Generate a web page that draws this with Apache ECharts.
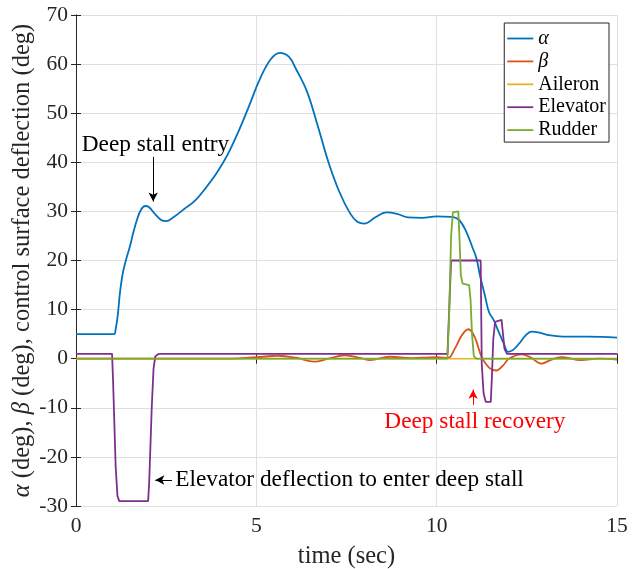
<!DOCTYPE html>
<html>
<head>
<meta charset="utf-8">
<script src="https://cdn.jsdelivr.net/npm/echarts@6/dist/echarts.min.js"></script>
<style>
html,body{margin:0;padding:0;background:#fff}
#chart{width:640px;height:569px}
</style>
</head>
<body>
<div id="chart"></div>
<script>
// time (sec), value (deg)
var alphaData = [[0,5],[1.05,5],[1.1,6],[1.16,9],[1.22,13.5],[1.3,17.5],[1.4,20.5],[1.5,23],[1.6,26],[1.7,28.5],[1.8,30.3],
  [1.92,31.1],[2.02,30.9],[2.15,29.8],[2.35,28.3],[2.5,28],[2.7,28.8],[3.0,30.5],[3.3,32.2],[3.6,34.8],[3.9,37.8],
  [4.2,41.5],[4.5,46.2],[4.8,51.5],[5.1,57],[5.4,61],[5.65,62.3],[5.9,61.5],[6.1,59],[6.4,54.5],[6.7,47.5],[7.0,40],
  [7.3,34],[7.6,29.6],[7.8,27.9],[8.0,27.5],[8.3,28.8],[8.6,29.8],[8.9,29.5],[9.2,28.8],[9.6,28.7],[10.0,29],
  [10.4,28.9],[10.6,28.4],[10.8,26.2],[11.0,22.5],[11.1,20.5],[11.2,17],[11.34,12.8],[11.45,9.5],[11.58,7.9],
  [11.7,5.8],[11.86,3.1],[11.98,1.4],[12.12,1.8],[12.3,3.2],[12.45,4.6],[12.63,5.5],[12.85,5.3],[13.1,4.8],
  [13.5,4.5],[14.2,4.5],[15,4.3]];
var betaData = [[0,0],[4,0],[5,0.3],[5.6,0.6],[6.1,0.2],[6.6,-0.6],[7.0,0],[7.45,0.7],[7.9,0.1],[8.15,-0.3],
  [8.7,0.4],[9.3,0.1],[10.0,0.3],[10.3,0.1],[10.5,2.0],[10.7,4.8],[10.88,6.0],[11.05,4.5],[11.25,0.3],[11.45,-1.8],
  [11.65,-2.4],[11.85,-1.3],[12.0,0],[12.35,0.9],[12.6,0.3],[12.9,-1.0],[13.15,-0.3],[13.45,0.3],[14.0,-0.3],
  [14.5,0],[15,-0.2]];
var aileronData = [[0,0],[15,0]];
var elevatorData = [[0,1],[1.0,1],[1.03,-5],[1.1,-22],[1.15,-28],[1.2,-29],[2.0,-29],[2.03,-25],[2.1,-10],
  [2.15,-2],[2.2,0.5],[2.3,1],[10.3,1],[10.4,20],[11.22,20],[11.25,-1],[11.3,-7],[11.36,-8.8],[11.5,-8.8],
  [11.53,-4],[11.57,4],[11.62,7.5],[11.66,7.9],[11.8,7.9],[11.88,2],[11.95,1],[15,1]];
var rudderData = [[0,0],[10.3,0],[10.35,10],[10.4,25],[10.45,29.8],[10.6,30],[10.63,25],[10.67,17],[10.72,15.3],
  [10.9,15],[10.94,12],[10.98,5],[11.03,0.5],[11.1,0],[15,0]];

var seriesNames = ['α', 'β', 'Aileron', 'Elevator', 'Rudder'];
var seriesColors = ['#0072BD', '#D95319', '#EDB120', '#7E2F8E', '#77AC30'];

var font = 'Liberation Serif';
var axisColor = '#262626';

var myChart = echarts.init(document.getElementById('chart'));

function lineSeries(i, data, smooth, w) {
  return {
    name: seriesNames[i],
    type: 'line',
    data: data,
    symbol: 'none',
    smooth: smooth,
    lineStyle: {color: seriesColors[i], width: w || 1.8},
    itemStyle: {color: seriesColors[i]},
    xAxisIndex: 0,
    yAxisIndex: 0
  };
}

// arrows in data coords
var arrowSeries = {
  type: 'line',
  data: [],
  silent: true,
  markLine: {
    silent: true,
    symbol: ['none', 'arrow'],
    symbolSize: [7, 9],
    label: {show: false},
    data: [
      [{coord: [2.14, 41.1], lineStyle: {color: '#000', width: 1, type: 'solid'}}, {coord: [2.14, 32.0]}],
      [{coord: [2.66, -24.7], lineStyle: {color: '#000', width: 1, type: 'solid'}}, {coord: [2.2, -24.7]}],
      [{coord: [11.01, -9.4], lineStyle: {color: '#ff0000', width: 1, type: 'solid'}}, {coord: [11.01, -6.3]}]
    ]
  }
};

var option = {
  animation: false,
  backgroundColor: '#fff',
  grid: {left: 76, right: 23, top: 15, bottom: 63, outerBoundsMode: 'none'},
  legend: {
    data: seriesNames,
    orient: 'vertical',
    right: 31,
    top: 23,
    padding: [5.5, 3, 2, 3],
    icon: 'rect',
    itemWidth: 26,
    itemHeight: 1.8,
    itemGap: 2.9,
    backgroundColor: '#fff',
    borderColor: axisColor,
    borderWidth: 1,
    borderRadius: 0,
    textStyle: {fontFamily: font, fontSize: 20, lineHeight: 20, color: '#000',
      rich: {i: {fontFamily: font, fontSize: 20, lineHeight: 20, fontStyle: 'italic', color: '#000'}}},
    formatter: function (name) {
      return (name === 'α' || name === 'β') ? '{i|' + name + '}' : name;
    }
  },
  xAxis: [
    {
      type: 'value', min: 0, max: 15, interval: 5,
      name: 'time (sec)', nameLocation: 'middle', nameGap: 38, nameMoveOverlap: false,
      nameTextStyle: {fontFamily: font, fontSize: 24.5, color: axisColor},
      axisLine: {show: true, lineStyle: {color: axisColor, width: 1}},
      axisTick: {show: true, inside: true, length: 5, lineStyle: {color: axisColor}},
      axisLabel: {fontFamily: font, fontSize: 21.5, color: axisColor, margin: 9},
      splitLine: {show: true, lineStyle: {color: '#dfdfdf', width: 1}}
    },
    {
      type: 'value', min: 0, max: 15, interval: 5, position: 'top',
      axisLine: {show: true, lineStyle: {color: axisColor, width: 1}},
      axisTick: {show: true, inside: true, length: 5, lineStyle: {color: axisColor}},
      axisLabel: {show: false},
      splitLine: {show: false}
    }
  ],
  yAxis: [
    {
      type: 'value', min: -30, max: 70, interval: 10,
      name: '{i|α} (deg), {i|β} (deg), control surface deflection (deg)',
      nameLocation: 'middle', nameGap: 41, nameMoveOverlap: false,
      nameTextStyle: {fontFamily: font, fontSize: 24.5, color: axisColor,
        rich: {i: {fontFamily: font, fontSize: 24.5, fontStyle: 'italic', color: axisColor}}},
      axisLine: {show: true, lineStyle: {color: axisColor, width: 1}},
      axisTick: {show: true, inside: true, length: 5, lineStyle: {color: axisColor}},
      axisLabel: {fontFamily: font, fontSize: 21.5, color: axisColor, margin: 8},
      splitLine: {show: true, lineStyle: {color: '#dfdfdf', width: 1}}
    },
    {
      type: 'value', min: -30, max: 70, interval: 10, position: 'right',
      axisLine: {show: true, lineStyle: {color: axisColor, width: 1}},
      axisTick: {show: true, inside: true, length: 5, lineStyle: {color: axisColor}},
      axisLabel: {show: false},
      splitLine: {show: false}
    }
  ],
  series: [
    lineSeries(0, alphaData, 0.4),
    lineSeries(1, betaData, 0.4),
    lineSeries(2, aileronData, false, 1.4),
    lineSeries(3, elevatorData, false),
    lineSeries(4, rudderData, false),
    arrowSeries
  ]
};
myChart.setOption(option);

// annotation texts placed at data coords
function px(t, v) { return myChart.convertToPixel({gridIndex: 0}, [t, v]); }
var p1 = px(0.16, 43.5), p2 = px(2.75, -24.7), p3 = px(11.06, -12.8);
var annFont = '23.3px ' + font;
myChart.setOption({
  graphic: [
    {type: 'text', x: p1[0], y: p1[1], style: {text: 'Deep stall entry', font: annFont, fill: '#000', textVerticalAlign: 'middle'}},
    {type: 'text', x: p2[0], y: p2[1], style: {text: 'Elevator deflection to enter deep stall', font: annFont, fill: '#000', textVerticalAlign: 'middle'}},
    {type: 'text', x: p3[0], y: p3[1], style: {text: 'Deep stall recovery', font: annFont, fill: '#ff0000', textAlign: 'center', textVerticalAlign: 'middle'}}
  ]
});
</script>
</body>
</html>
